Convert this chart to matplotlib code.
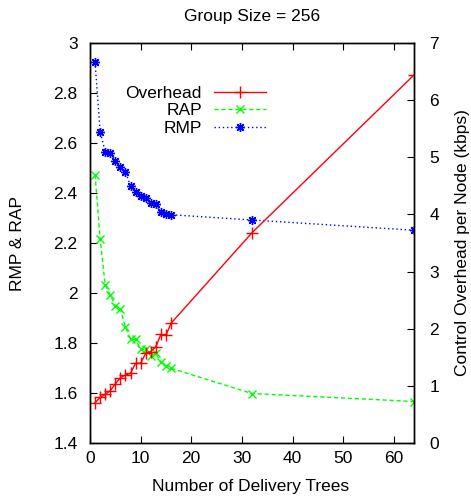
import matplotlib
matplotlib.use("Agg")
import matplotlib.pyplot as plt

plt.rcParams['font.family'] = ['Liberation Sans', 'DejaVu Sans']

trees = [1, 2, 3, 4, 5, 6, 7, 8, 9, 10, 11, 12, 13, 14, 15, 16, 32, 64]
overhead = [0.705, 0.80, 0.852, 0.916, 1.033, 1.143, 1.19, 1.22, 1.395, 1.395,
            1.57, 1.60, 1.685, 1.90, 1.885, 2.095, 3.68, 6.44]
rap = [2.473, 2.217, 2.032, 1.992, 1.950, 1.935, 1.864, 1.815, 1.815, 1.775,
       1.775, 1.749, 1.759, 1.724, 1.709, 1.699, 1.598, 1.566]
rmp = [2.923, 2.645, 2.565, 2.559, 2.529, 2.504, 2.485, 2.428, 2.405, 2.389,
       2.379, 2.359, 2.356, 2.325, 2.316, 2.313, 2.292, 2.251]

W, H = 471, 496
L, R, T, B = 90, 414, 43, 443
fig = plt.figure(figsize=(W / 100, H / 100), dpi=100)
ax = fig.add_axes([L / W, 1 - B / H, (R - L) / W, (B - T) / H])
ax2 = ax.twinx()

fs = 12.5
l1, = ax2.plot(trees, overhead, color='#ff0000', lw=1, ls='-', marker='+',
               ms=8, mew=1, label='Overhead')
l2, = ax.plot(trees, rap, color='#00ff00', lw=1, ls=(0, (3, 2)), marker='x',
              ms=6, mew=1, label='RAP')
l3, = ax.plot(trees, rmp, color='#0000ff', lw=1, ls=(0, (1, 2)), marker=(8, 2, 0),
              ms=6.5, mew=1, label='RMP')

ax.set_xlim(0, 64)
ax.set_ylim(1.4, 3.0)
ax2.set_ylim(0, 7)
ax.set_xticks(range(0, 61, 10))
ax.set_yticks([1.4, 1.6, 1.8, 2.0, 2.2, 2.4, 2.6, 2.8, 3.0])
ax.set_yticklabels(['1.4', '1.6', '1.8', '2', '2.2', '2.4', '2.6', '2.8', '3'])
ax2.set_yticks(range(0, 8))

ax.tick_params(axis='x', direction='in', top=True, bottom=True, length=5,
               labelsize=fs, pad=6)
ax.tick_params(axis='y', direction='in', left=True, right=False, length=5,
               labelsize=fs, pad=9)
ax2.tick_params(axis='y', direction='in', right=True, length=5, labelsize=fs, pad=11)

for a in (ax, ax2):
    for s in a.spines.values():
        s.set_linewidth(1)

ax.set_xlabel('Number of Delivery Trees', fontsize=fs)
ax.xaxis.set_label_coords((251 - L) / (R - L), (B - 487) / (B - T))
ax.set_ylabel('RMP & RAP', fontsize=fs)
ax.yaxis.set_label_coords((18 - L) / (R - L), 0.5)
ax2.set_ylabel('Control Overhead per Node (kbps)', fontsize=fs)
ax2.yaxis.set_label_coords((463 - L) / (R - L), 0.5)
for lab in (ax.xaxis.label, ax.yaxis.label, ax2.yaxis.label):
    lab.set_va('center')
fig.text(252 / W, 1 - 17 / H, 'Group Size = 256', fontsize=fs, ha='center', va='center')

leg = ax.legend(handles=[l1, l2, l3], loc='upper right',
                bbox_to_anchor=(266 / W, 1 - 86 / H), bbox_transform=fig.transFigure,
                frameon=False, markerfirst=False, fontsize=fs, handlelength=3.0,
                handletextpad=0.7, labelspacing=0.12, borderpad=0, borderaxespad=0,
                numpoints=1, markerscale=1.0)

fig.savefig('out.png', dpi=100)
